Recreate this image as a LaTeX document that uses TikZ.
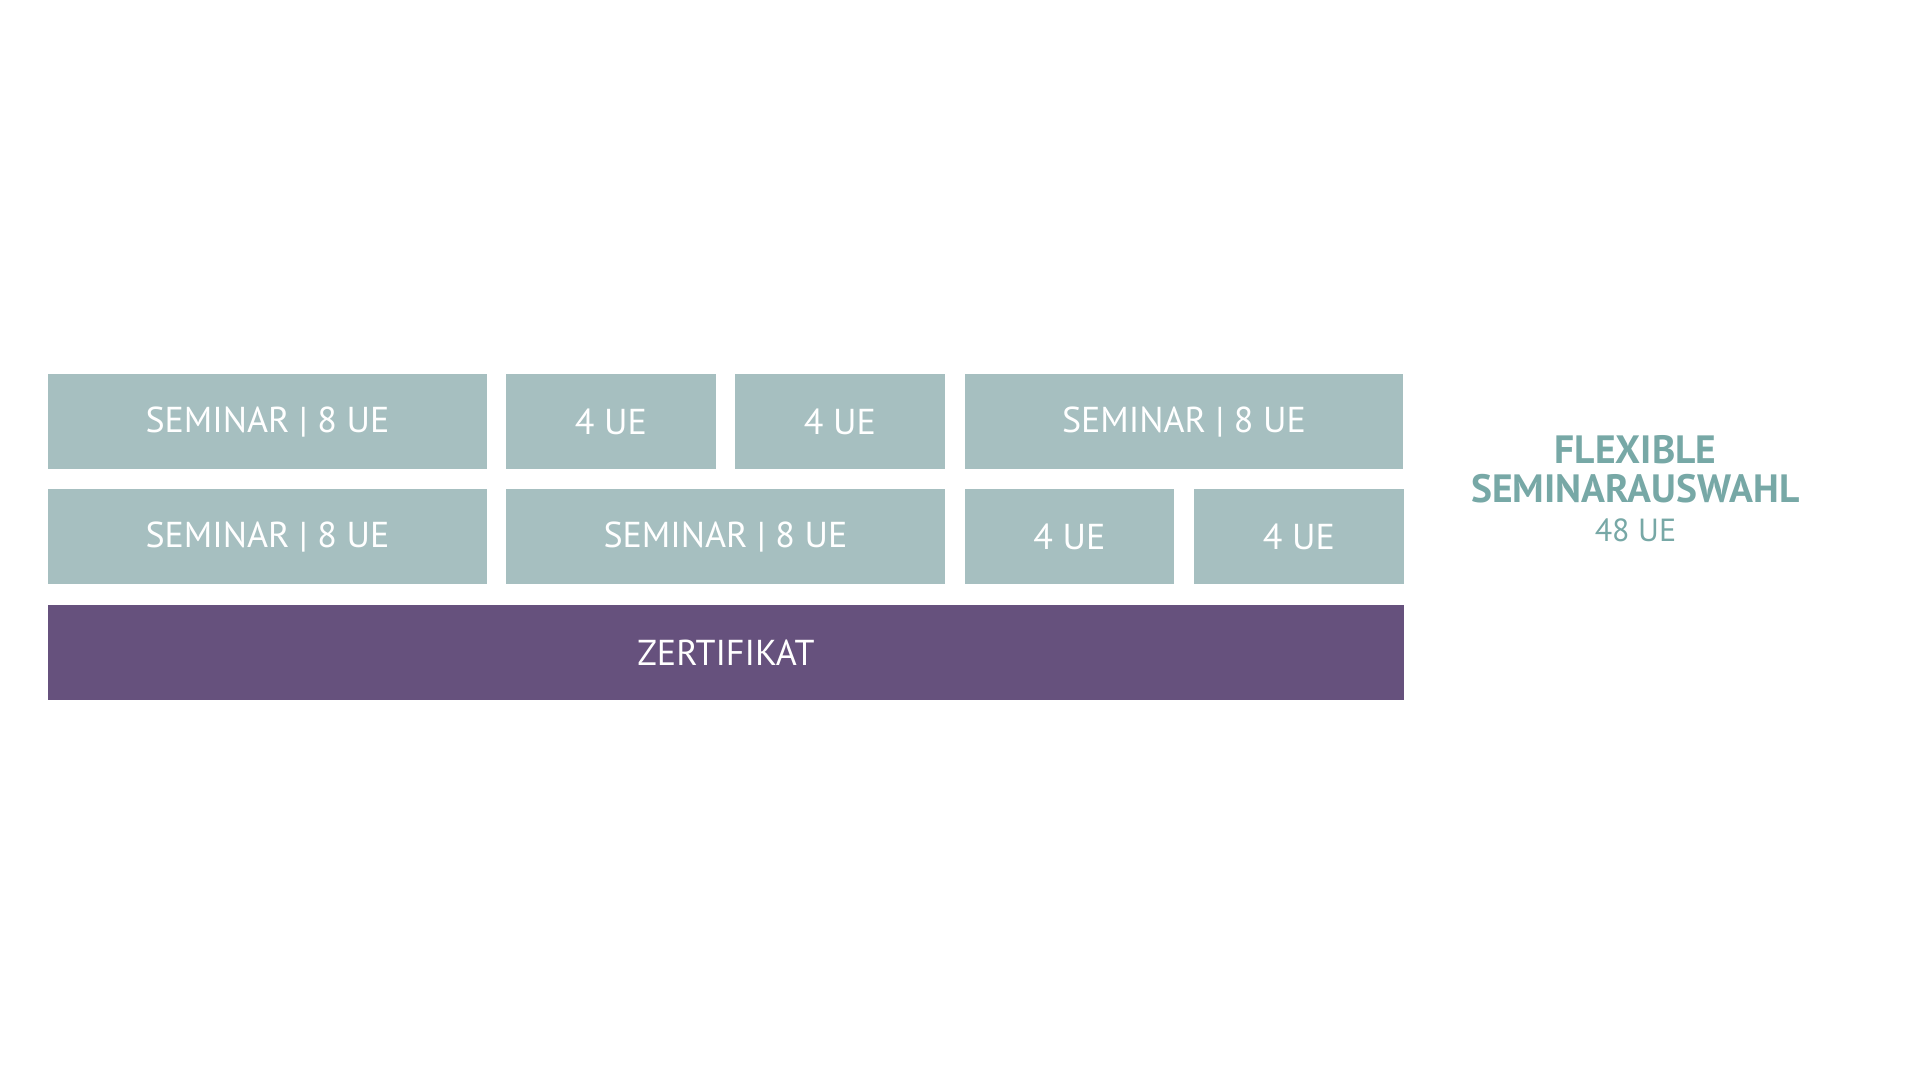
\documentclass[tikz,border=0pt]{standalone}
\usepackage{fontspec}
\setmainfont{PT Sans}
\definecolor{boxteal}{HTML}{A6BFC0}
\definecolor{certpurple}{HTML}{66517D}
\definecolor{headteal}{HTML}{77A8A6}
\tikzset{
  tile/.style={fill=boxteal, draw=none, anchor=north west, minimum height=95pt, inner sep=0pt,
    text=white, font=\fontsize{36}{36}\selectfont},
  wide/.style={tile, minimum width=438.5pt},
  narrow/.style={tile, minimum width=209.5pt},
  cert/.style={tile, fill=certpurple, minimum width=1355.5pt},
  headline/.style={text=headteal, anchor=base, inner sep=0pt, font=\fontsize{39.5}{39.5}\selectfont\bfseries},
  subline/.style={text=headteal, anchor=base, inner sep=0pt, font=\fontsize{32}{32}\selectfont},
}
\begin{document}
\begin{tikzpicture}[x=1pt,y=-1pt]
\useasboundingbox (0,0) rectangle (1920,1080);
% row 1
\node[wide]   (r1a) at (48,374)    {SEMINAR | 8 UE};
\node[narrow] (r1b) at (506,374)   {4 UE};
\node[narrow] (r1c) at (735,374)   {4 UE};
\node[wide]   (r1d) at (964.5,374) {SEMINAR | 8 UE};
% row 2
\node[wide]   (r2a) at (48,489)    {SEMINAR | 8 UE};
\node[wide]   (r2b) at (506,489)   {SEMINAR | 8 UE};
\node[narrow] (r2c) at (964.5,489) {4 UE};
\node[narrow] (r2d) at (1194,489)  {4 UE};
% certificate
\node[cert]   (zert) at (48,605)   {ZERTIFIKAT};
% side label
\node[headline] (t1) at (1635.5,463) {FLEXIBLE};
\node[headline] (t2) at (1635.5,502) {SEMINARAUSWAHL};
\node[subline]  (t3) at (1635.5,541) {48 UE};
\end{tikzpicture}
\end{document}
